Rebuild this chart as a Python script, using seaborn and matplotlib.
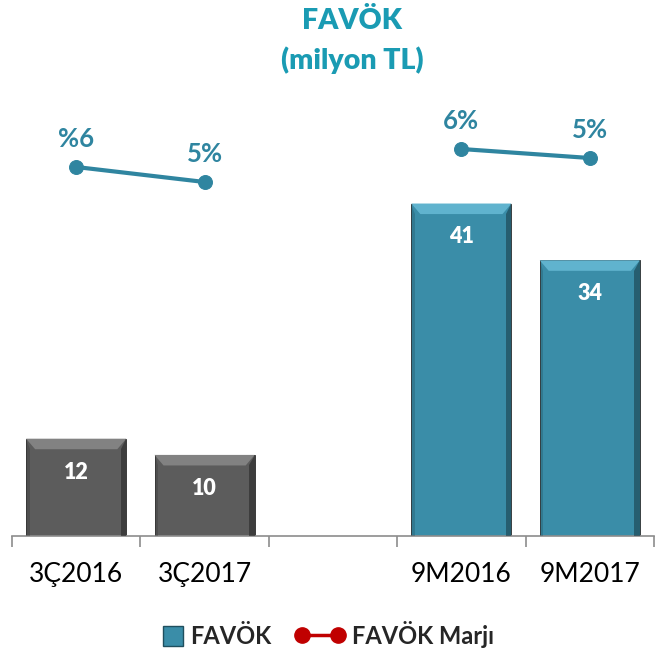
import matplotlib
matplotlib.use("Agg")
import matplotlib.pyplot as plt
import seaborn as sns
import pandas as pd
import numpy as np
from matplotlib.patches import Polygon, Patch, Rectangle
from matplotlib.lines import Line2D
from matplotlib.legend_handler import HandlerPatch

sns.set_style("white")
plt.rcParams['font.family'] = ['Lato', 'DejaVu Sans']

# ---- data ----
categories = ["3Ç2016", "3Ç2017", "9M2016", "9M2017"]
groups = ["3Ç", "3Ç", "9M", "9M"]
favok = [12, 10, 41, 34]
margin = [5.6, 5.1, 6.2, 5.9]
margin_labels = ["%6", "5%", "6%", "5%"]
order = ["3Ç2016", "3Ç2017", " ", "9M2016", "9M2017"]
title_lines = ["FAVÖK", "(milyon TL)"]
legend_labels = ["FAVÖK", "FAVÖK Marjı"]

bar_colors = {"3Ç": "#5c5c5c", "9M": "#3a8da8"}
line_color = "#2f85a0"
title_color = "#1a9bb3"

df = pd.DataFrame({"cat": categories, "grp": groups, "val": favok,
                   "margin": margin})
df["pos"] = [order.index(c) for c in categories]

fig = plt.figure(figsize=(6.61, 6.5), dpi=100)
ax = fig.add_axes([12 / 661, 114 / 650, 642 / 661, 446 / 650])

sns.barplot(data=df, x="cat", y="val", hue="grp", order=order,
            palette=bar_colors, dodge=False, width=0.78, legend=False,
            ax=ax, edgecolor="#2a2a2a", linewidth=0.6, saturation=1)
ax.set_xlim(-0.5, 4.5)
ax.set_ylim(0, 55)

# bevel decoration derived from bar geometry
for p in list(ax.patches):
    h = p.get_height()
    if not np.isfinite(h) or h <= 0:
        continue
    x0, w = p.get_x(), p.get_width()
    fc = p.get_facecolor()
    light = tuple(min(1, c + 0.15) for c in fc[:3])
    dark = tuple(c * 0.45 for c in fc[:3])
    dy = 1.3
    dx = w * 0.09
    top = Polygon([[x0, h], [x0 + w, h], [x0 + w - dx, h - dy], [x0 + dx, h - dy]],
                  closed=True, facecolor=light, edgecolor="none", zorder=3)
    right = Polygon([[x0 + w, h], [x0 + w, 0], [x0 + w - dx * 0.6, 0],
                     [x0 + w - dx * 0.6, h - dy]],
                    closed=True, facecolor=dark, edgecolor="none", zorder=3, alpha=0.6)
    left = Polygon([[x0, h], [x0, 0], [x0 + dx * 0.4, 0], [x0 + dx * 0.4, h - dy]],
                   closed=True, facecolor=dark, edgecolor="none", zorder=3, alpha=0.25)
    ax.add_patch(top)
    ax.add_patch(right)
    ax.add_patch(left)

# value labels inside bars
for _, r in df.iterrows():
    ax.annotate(str(r["val"]), (r["pos"], r["val"]), xytext=(0, -24),
                textcoords="offset points", ha="center", va="center",
                color="white", fontsize=15.5, fontweight="heavy", zorder=5)

# axis styling
for s in ["top", "left", "right"]:
    ax.spines[s].set_visible(False)
ax.spines["bottom"].set_color("#8c8c8c")
ax.spines["bottom"].set_linewidth(1.2)
ax.set_yticks([])
ax.set_xlabel("")
ax.set_ylabel("")
ax.tick_params(axis="x", which="major", length=0, pad=19, labelsize=19,
               labelcolor="black")
ax.set_xticks(np.arange(-0.5, 5, 1.0), minor=True)
ax.tick_params(axis="x", which="minor", bottom=True, length=8, width=1.2,
               color="#8c8c8c", direction="out")

# margin line on secondary axis
ax2 = ax.twinx()
sns.lineplot(data=df, x="pos", y="margin", units="grp", estimator=None,
             color=line_color, linewidth=3, marker="o", markersize=10,
             markeredgecolor=line_color, ax=ax2)
ax2.set_ylim(-6.7, 8.167)
ax2.set_xlim(-0.5, 4.5)
ax2.set_yticks([])
ax2.set_ylabel("")
ax2.set_xlabel("")
for s in ["top", "left", "right", "bottom"]:
    ax2.spines[s].set_visible(False)
for (_, r), lab in zip(df.iterrows(), margin_labels):
    ax2.annotate(lab, (r["pos"], r["margin"]), xytext=(0, 20),
                 textcoords="offset points", ha="center", va="center",
                 color=line_color, fontsize=18.5, fontweight="bold")

# title
fig.text(352 / 661, 1 - 21 / 650, title_lines[0], ha="center", va="center",
         color=title_color, fontsize=20.5, fontweight="heavy")
fig.text(352 / 661, 1 - 60 / 650, title_lines[1], ha="center", va="center",
         color=title_color, fontsize=20.5, fontweight="heavy")


# legend
def square_patch(legend, orig_handle, xdescent, ydescent, width, height, fontsize):
    s = height * 0.95
    return Rectangle((width - s - xdescent, -ydescent - (s - height) / 2), s, s)


handles = [Patch(facecolor=bar_colors["9M"], edgecolor="#1f4f5e"),
           Line2D([0], [0], color="#c00000", linewidth=2.5, marker="o",
                  markersize=11)]
fig.legend(handles, legend_labels, loc="center", bbox_to_anchor=(0.475, 1 - 635 / 650),
           ncol=2, frameon=False, prop={"weight": "bold", "size": 17},
           handlelength=2.1, handleheight=1.0, handletextpad=0.3,
           columnspacing=1.0, numpoints=2,
           handler_map={Patch: HandlerPatch(patch_func=square_patch)})

fig.savefig("out.png", dpi=100)
